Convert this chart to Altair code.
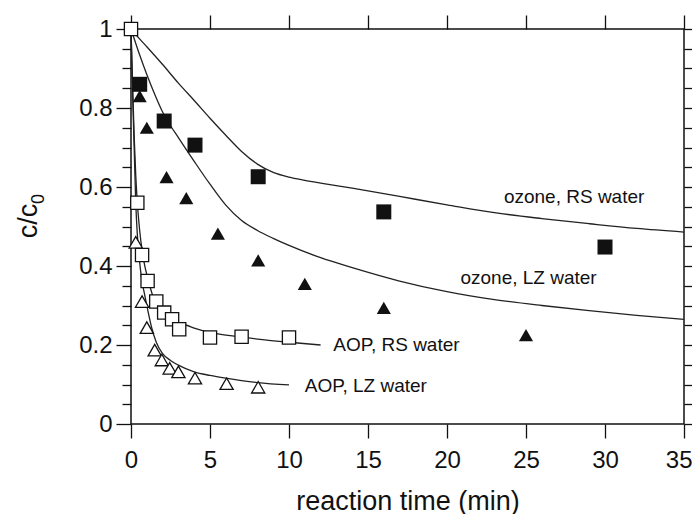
import altair as alt
import pandas as pd

# ---------------- data ----------------
# measured points
oz_rs_t = [0.55, 2.1, 4.05, 8.05, 16.0, 30.0]
oz_rs_c = [0.86, 0.767, 0.706, 0.626, 0.537, 0.448]

oz_lz_t = [0.55, 1.0, 2.25, 3.5, 5.5, 8.05, 11.0, 16.0, 25.0]
oz_lz_c = [0.83, 0.75, 0.625, 0.572, 0.482, 0.414, 0.355, 0.294, 0.225]

aop_rs_t = [0.0, 0.4, 0.7, 1.05, 1.6, 2.1, 2.6, 3.05, 5.0, 7.0, 10.0]
aop_rs_c = [1.0, 0.56, 0.428, 0.362, 0.31, 0.282, 0.265, 0.24, 0.219, 0.221, 0.219]

aop_lz_t = [0.3, 0.7, 1.0, 1.5, 1.95, 2.45, 3.0, 4.05, 6.05, 8.05]
aop_lz_c = [0.46, 0.31, 0.244, 0.187, 0.162, 0.141, 0.132, 0.116, 0.102, 0.093]

# model curves
fit_oz_rs_t = [0, 0.5, 1, 2, 3, 4, 5, 6, 7, 8, 9, 10, 11, 12, 14, 17, 20, 23, 26, 29, 32, 35]
fit_oz_rs_c = [1.0, 0.977, 0.955, 0.91, 0.863, 0.819, 0.774, 0.731, 0.69, 0.658, 0.637,
               0.625, 0.617, 0.61, 0.597, 0.576, 0.555, 0.535, 0.52, 0.507, 0.495, 0.486]

fit_oz_lz_t = [0, 0.5, 1, 1.5, 2, 2.5, 3, 4, 5, 6, 7, 8, 9, 10, 12, 14, 17, 20, 23, 26, 29, 32, 35]
fit_oz_lz_c = [1.0, 0.94, 0.885, 0.835, 0.79, 0.755, 0.725, 0.665, 0.607, 0.554, 0.515, 0.49,
               0.47, 0.452, 0.421, 0.396, 0.362, 0.335, 0.315, 0.3, 0.287, 0.275, 0.265]

fit_aop_rs_t = [0, 0.1, 0.2, 0.3, 0.4, 0.55, 0.7, 0.85, 1.0, 1.2, 1.5, 2.0, 2.5, 3.0, 3.5, 4.0,
                5.0, 6.0, 7.0, 8.0, 10.0, 12.0]
fit_aop_rs_c = [1.0, 0.86, 0.73, 0.63, 0.56, 0.49, 0.44, 0.405, 0.378, 0.348, 0.31, 0.282,
                0.265, 0.254, 0.25, 0.243, 0.232, 0.225, 0.22, 0.215, 0.207, 0.2]

fit_aop_lz_t = [0, 0.1, 0.2, 0.3, 0.4, 0.5, 0.7, 0.85, 1.0, 1.3, 1.6, 2.0, 2.5, 3.0, 4.0, 5.0,
                6.0, 7.0, 8.0, 10.0]
fit_aop_lz_c = [1.0, 0.84, 0.7, 0.56, 0.48, 0.43, 0.36, 0.33, 0.3, 0.245, 0.207, 0.178, 0.161,
                0.149, 0.132, 0.123, 0.116, 0.11, 0.105, 0.099]

# curve labels
label_text = ["ozone, RS water", "ozone, LZ water", "AOP, RS water", "AOP, LZ water"]
label_t = [23.6, 20.85, 12.8, 11.0]
label_c = [0.575, 0.37, 0.2, 0.096]

x_ticks = [0, 5, 10, 15, 20, 25, 30, 35]
y_ticks = [0, 0.2, 0.4, 0.6, 0.8, 1.0]
y_minor = [0.05, 0.1, 0.15, 0.25, 0.3, 0.35, 0.45, 0.5, 0.55, 0.65, 0.7, 0.75, 0.85, 0.9, 0.95]

# ---------------- tables ----------------
curves = pd.concat([
    pd.DataFrame({"t": fit_oz_rs_t, "c": fit_oz_rs_c, "curve": "oz_rs"}),
    pd.DataFrame({"t": fit_oz_lz_t, "c": fit_oz_lz_c, "curve": "oz_lz"}),
    pd.DataFrame({"t": fit_aop_rs_t, "c": fit_aop_rs_c, "curve": "aop_rs"}),
    pd.DataFrame({"t": fit_aop_lz_t, "c": fit_aop_lz_c, "curve": "aop_lz"}),
])
df_oz_rs = pd.DataFrame({"t": oz_rs_t, "c": oz_rs_c})
df_oz_lz = pd.DataFrame({"t": oz_lz_t, "c": oz_lz_c})
df_aop_rs = pd.DataFrame({"t": aop_rs_t, "c": aop_rs_c})
df_aop_lz = pd.DataFrame({"t": aop_lz_t, "c": aop_lz_c})
df_labels = pd.DataFrame({"t": label_t, "c": label_c, "txt": label_text})

INK = "#111111"
FONT = "Liberation Sans"

xs = alt.Scale(domain=[0, 35], nice=False, zero=False)
ys = alt.Scale(domain=[0, 1], nice=False, zero=False)

common = dict(domain=False, grid=False, tickColor=INK, tickWidth=1.3,
              labelColor=INK, labelFont=FONT, titleFont=FONT, titleColor=INK)

x_main = alt.Axis(orient="bottom", values=x_ticks, tickSize=14, labelPadding=10,
                  labelFontSize=24, labelFlush=False, labelOverlap=False,
                  labelAlign={"condition": {"test": "datum.value == 35", "value": "right"},
                              "value": "center"},
                  labelOffset={"condition": {"test": "datum.value == 35", "value": 8},
                               "value": 0},
                  title="reaction time (min)", titleFontSize=27, titleFontWeight="normal",
                  titlePadding=16, **common)
y_main = alt.Axis(orient="left", values=y_ticks, format="~g", tickSize=15, labelPadding=4,
                  labelFontSize=24, labelFlush=False, labelOverlap=False, title=None, **common)
x_top = alt.Axis(orient="top", values=x_ticks, tickSize=14, labels=False, title=None, **common)
y_right = alt.Axis(orient="right", values=y_ticks, tickSize=12, labels=False, title=None, **common)
y_left_minor = alt.Axis(orient="left", values=y_minor, tickSize=9, labels=False, title=None, **common)
y_right_minor = alt.Axis(orient="right", values=y_minor, tickSize=8, labels=False, title=None, **common)

lines = alt.Chart(curves).mark_line(color="#222222", strokeWidth=1.3, interpolate="monotone").encode(
    x=alt.X("t:Q", scale=xs, axis=x_main),
    y=alt.Y("c:Q", scale=ys, axis=y_main),
    detail="curve:N",
)

filled_sq = alt.Chart(df_oz_rs).mark_point(shape="square", filled=True, fill=INK, strokeWidth=0,
                                           size=225, opacity=1).encode(
    x=alt.X("t:Q", scale=xs, axis=x_top),
    y=alt.Y("c:Q", scale=ys, axis=y_right),
)
filled_tri = alt.Chart(df_oz_lz).mark_point(shape="triangle-up", filled=True, fill=INK, strokeWidth=0,
                                            size=200, opacity=1).encode(
    x=alt.X("t:Q", scale=xs, axis=None),
    y=alt.Y("c:Q", scale=ys, axis=y_left_minor),
)
open_sq = alt.Chart(df_aop_rs).mark_point(shape="square", filled=True, fill="white", stroke=INK,
                                          strokeWidth=1.3, size=175, opacity=1).encode(
    x=alt.X("t:Q", scale=xs, axis=None),
    y=alt.Y("c:Q", scale=ys, axis=y_right_minor),
)
open_tri = alt.Chart(df_aop_lz).mark_point(shape="triangle-up", filled=True, fill="white", stroke=INK,
                                           strokeWidth=1.3, size=175, opacity=1).encode(
    x=alt.X("t:Q", scale=xs, axis=None),
    y=alt.Y("c:Q", scale=ys, axis=None),
)
labels = alt.Chart(df_labels).mark_text(align="left", baseline="middle", font=FONT, fontSize=19,
                                        color=INK).encode(
    x=alt.X("t:Q", scale=xs, axis=None),
    y=alt.Y("c:Q", scale=ys, axis=None),
    text="txt:N",
)

ytitle_main = alt.Chart(pd.DataFrame({"s": ["c/c"]})).mark_text(
    angle=270, align="center", baseline="alphabetic", font=FONT, fontSize=27, color=INK
).encode(x=alt.value(-94), y=alt.value(192), text="s:N")
ytitle_sub = alt.Chart(pd.DataFrame({"s": ["0"]})).mark_text(
    angle=270, align="center", baseline="alphabetic", font=FONT, fontSize=18, color=INK
).encode(x=alt.value(-87), y=alt.value(170), text="s:N")

chart = alt.layer(
    lines, filled_tri, filled_sq, open_tri, open_sq, labels, ytitle_main, ytitle_sub
).resolve_axis(
    x="independent", y="independent"
).properties(
    width=553, height=395,
    autosize=alt.AutoSizeParams(type="none"),
    padding={"left": 123, "top": 21, "right": 8, "bottom": 90},
    background="white",
).configure(font=FONT).configure_view(stroke=INK, strokeWidth=1.5)

chart.save("out.html", embed_options={"renderer": "svg", "actions": False})
